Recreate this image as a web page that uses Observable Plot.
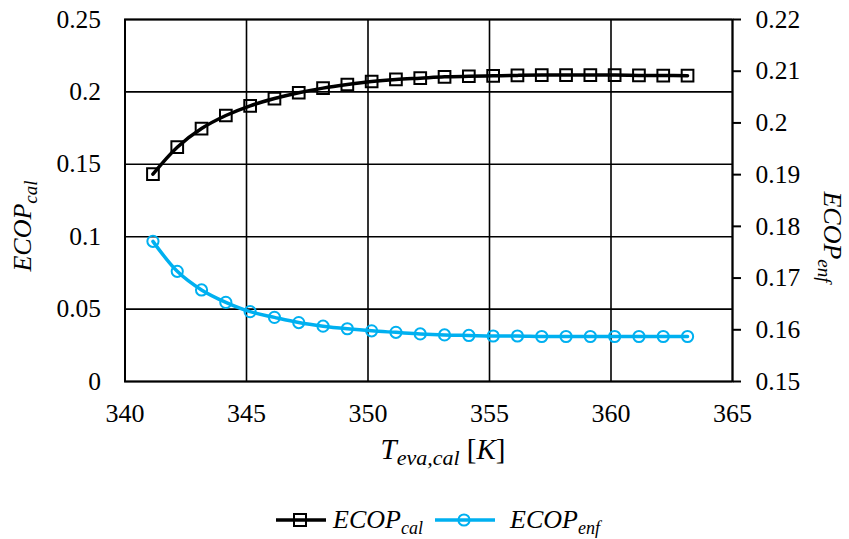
<!DOCTYPE html>
<html><head><meta charset="utf-8">
<script src="https://cdn.jsdelivr.net/npm/d3@7"></script>
<script src="https://cdn.jsdelivr.net/npm/@observablehq/plot@0.6"></script>
<style>
body{margin:0;background:#fff;font-family:"Liberation Serif","DejaVu Serif",serif;}
#chart svg{display:block;}
#chart svg text{font-family:"Liberation Serif","DejaVu Serif",serif;}
#legend{height:39px;position:relative;font-family:"Liberation Serif","DejaVu Serif",serif;font-size:26px;font-style:italic;color:#000;}
.item{position:absolute;top:0;height:39px;display:flex;align-items:center;}
.item sub{font-size:18px;vertical-align:-6px;line-height:0;}
</style></head><body>
<div id="chart"></div>
<div id="legend"></div>
<script>
// Data
const temperature = [341.15,342.15,343.15,344.15,345.15,346.15,347.15,348.15,349.15,350.15,351.15,352.15,353.15,354.15,355.15,356.15,357.15,358.15,359.15,360.15,361.15,362.15,363.15];
const ecopCal = [0.1432,0.1618,0.1747,0.1837,0.1904,0.1954,0.1994,0.2026,0.2051,0.2072,0.2086,0.2095,0.2104,0.2108,0.2111,0.2114,0.2116,0.2116,0.2116,0.2116,0.2114,0.2113,0.2112];
const ecopEnf = [0.1771,0.1713,0.1677,0.1653,0.1635,0.1624,0.1614,0.1607,0.1602,0.1598,0.1595,0.1592,0.1590,0.1589,0.1588,0.1588,0.1587,0.1587,0.1587,0.1587,0.1587,0.1587,0.1587];
const xTicks = [340,345,350,355,360,365];
const leftTicks = [0,0.05,0.1,0.15,0.2,0.25];
const rightTicks = [0.15,0.16,0.17,0.18,0.19,0.2,0.21,0.22];

const leftDomain = [0,0.25], rightDomain = [0.15,0.22];
const toLeft = v => leftDomain[0] + (v - rightDomain[0]) / (rightDomain[1]-rightDomain[0]) * (leftDomain[1]-leftDomain[0]);
const fromLeft = v => rightDomain[0] + (v - leftDomain[0]) / (leftDomain[1]-leftDomain[0]) * (rightDomain[1]-rightDomain[0]);
const fmt = (d, p) => String(+(+d).toFixed(p));

const cal = temperature.map((t,i)=>({t, v: ecopCal[i]}));
const enf = temperature.map((t,i)=>({t, v: toLeft(ecopEnf[i])}));
const BLUE = "#00B0F0";
const FONT = "Liberation Serif, DejaVu Serif, serif";

const W = 849, H = 500;
const chart = Plot.plot({
  width: W, height: H,
  marginLeft: 124.5, marginRight: 117, marginTop: 19, marginBottom: 119,
  x: {domain: [340,365]},
  y: {domain: leftDomain},
  style: "font-family: 'Liberation Serif', 'DejaVu Serif', serif; font-size: 25px; color: #000; background: #fff;",
  marks: [
    Plot.gridX(xTicks, {stroke: "#000", strokeOpacity: 1, strokeWidth: 1.6}),
    Plot.gridY(leftTicks, {stroke: "#000", strokeOpacity: 1, strokeWidth: 1.6}),
    Plot.frame({stroke: "#000", strokeWidth: 2}),
    Plot.axisX(xTicks, {tickSize: 0, tickPadding: 22, label: null, fontSize: 26, fontFamily: FONT, tickFormat: d => fmt(d,0)}),
    Plot.axisY(leftTicks, {tickSize: 0, tickPadding: 24, label: null, fontSize: 25.5, fontFamily: FONT, tickFormat: d => fmt(d,3)}),
    Plot.axisY(rightTicks.map(toLeft), {anchor: "right", tickSize: 8, tickPadding: 15, strokeWidth: 2, label: null, fontSize: 25.5, fontFamily: FONT, tickFormat: d => fmt(fromLeft(d),2)}),
    Plot.line(cal, {x: "t", y: "v", stroke: "#000", strokeWidth: 3.5, curve: "catmull-rom"}),
    Plot.dot(cal, {x: "t", y: "v", symbol: "square", r: 6.6, stroke: "#000", strokeWidth: 2, fill: "none"}),
    Plot.line(enf, {x: "t", y: "v", stroke: BLUE, strokeWidth: 3.5, curve: "catmull-rom"}),
    Plot.dot(enf, {x: "t", y: "v", symbol: "circle", r: 5.6, stroke: BLUE, strokeWidth: 2, fill: "none"})
  ]
});
document.getElementById("chart").appendChild(chart);

// Axis titles with subscripts
const svg = d3.select(chart);
function mathTitle(g, main, sub, extra, size, subSize) {
  const t = g.append("text").attr("text-anchor","middle").attr("font-family",FONT).attr("font-size",size).attr("fill","#000");
  t.append("tspan").attr("font-style","italic").text(main);
  t.append("tspan").attr("font-style","italic").attr("font-size",subSize).attr("dy",6).text(sub);
  if (extra) {
    t.append("tspan").attr("dy",-6).text(" [");
    t.append("tspan").attr("font-style","italic").text(extra);
    t.append("tspan").text("]");
  }
}
mathTitle(svg.append("g").attr("transform","translate(443,459)"), "T", "eva,cal", "K", 29, 22);
mathTitle(svg.append("g").attr("transform","translate(31,226) rotate(-90)"), "ECOP", "cal", null, 26, 19);
mathTitle(svg.append("g").attr("transform","translate(824,237) rotate(90)"), "ECOP", "enf", null, 26, 19);

// Legend
const legend = document.getElementById("legend");
legend.innerHTML = `
<div class="item" style="left:276px">
  <svg width="50" height="20"><line x1="0" x2="50" y1="10" y2="10" stroke="#000" stroke-width="3.5"/><rect x="18" y="4" width="12" height="12" fill="none" stroke="#000" stroke-width="2"/></svg>
  <span style="margin-left:7px">ECOP<sub>cal</sub></span>
</div>
<div class="item" style="left:435px">
  <svg width="60" height="20"><line x1="0" x2="60" y1="10" y2="10" stroke="${BLUE}" stroke-width="3.5"/><circle cx="29" cy="10" r="5.6" fill="none" stroke="${BLUE}" stroke-width="2"/></svg>
  <span style="margin-left:15px">ECOP<sub>enf</sub></span>
</div>`;
</script>
</body></html>
